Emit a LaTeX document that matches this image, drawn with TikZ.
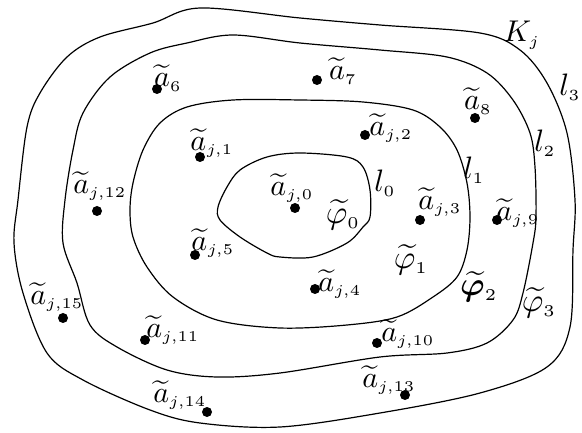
\documentclass[tikz,border=0pt]{standalone}
\usepackage{amsmath}
\usepackage{bm}
\newcommand{\tA}[1]{\widetilde{a}_{\scriptscriptstyle #1}}
\newcommand{\tPhi}[1]{\widetilde{\varphi}_{\scriptscriptstyle #1}}
\begin{document}
\begin{tikzpicture}[x=1pt,y=-1pt,
  curve/.style={line width=1.2pt, black},
  dot/.style={circle, fill=black, inner sep=0pt, minimum size=10pt},
  lab/.style={inner sep=0pt, scale=3.0},
  phl/.style={inner sep=0pt, scale=3.3},
  lbl/.style={inner sep=0pt, scale=3.1}]
\useasboundingbox (0,0) rectangle (582,433);
% outer curve K_j / l_3
\draw[curve] plot[smooth cycle, tension=0.55] coordinates {
 (153,23) (200,8) (300,18) (380,25) (480,33) (520,50) (547,83) (567,133)
 (575,200) (573,250) (570,327) (547,367) (480,393) (380,413) (280,427)
 (200,423) (150,410) (83,380) (47,353) (23,293) (14,243) (18,200) (27,127)
 (40,93) (67,57) (100,37)};
% l_2
\draw[curve] plot[smooth cycle, tension=0.55] coordinates {
 (300,43) (380,50) (447,57) (487,73) (513,100) (530,133) (535,167) (536,217)
 (533,243) (523,293) (513,320) (487,343) (447,353) (380,357) (280,373)
 (217,377) (167,370) (117,347) (90,325) (77,283) (63,243) (65,200) (73,150)
 (83,113) (110,77) (150,53) (187,43) (233,35)};
% l_1
\draw[curve] plot[smooth cycle, tension=0.55] coordinates {
 (300,100) (363,102) (413,110) (440,127) (457,150) (467,183) (470,217)
 (467,250) (457,277) (433,297) (397,317) (347,325) (280,328) (217,320)
 (173,297) (147,267) (133,237) (130,210) (133,183) (143,150) (160,123)
 (187,107) (233,100)};
% l_0
\draw[curve] plot[smooth cycle, tension=0.55] coordinates {
 (300,153) (347,157) (363,167) (370,190) (370,217) (363,227) (347,243)
 (313,257) (280,257) (267,253) (240,237) (220,220) (218,207) (227,187)
 (240,170) (267,157)};
% dots
\node[dot] (a6)  at (157,89)  {};
\node[dot] (a7)  at (317,80)  {};
\node[dot] (a8)  at (475,118) {};
\node[dot] (a1)  at (200,157) {};
\node[dot] (a2)  at (365,135) {};
\node[dot] (a12) at (97,211)  {};
\node[dot] (a0)  at (295,208) {};
\node[dot] (a3)  at (420,220) {};
\node[dot] (a9)  at (497,220) {};
\node[dot] (a5)  at (195,255) {};
\node[dot] (a4)  at (315,289) {};
\node[dot] (a15) at (63,318)  {};
\node[dot] (a11) at (145,340) {};
\node[dot] (a10) at (377,343) {};
\node[dot] (a13) at (405,395) {};
\node[dot] (a14) at (207,412) {};
% labels of points
\node[lab] at (168,78)  {$\tA{6}$};
\node[lab] at (343,71)  {$\tA{7}$};
\node[lab] at (478,101) {$\tA{8}$};
\node[lab] at (212,143) {$\tA{j,1}$};
\node[lab] at (391,128) {$\tA{j,2}$};
\node[lab] at (100,186) {$\tA{j,12}$};
\node[lab] at (292,188) {$\tA{j,0}$};
\node[lab] at (440,202) {$\tA{j,3}$};
\node[lab] at (518,213) {$\tA{j,9}$};
\node[lab] at (213,243) {$\tA{j,5}$};
\node[lab] at (340,284) {$\tA{j,4}$};
\node[lab] at (57,297)  {$\tA{j,15}$};
\node[lab] at (173,330) {$\tA{j,11}$};
\node[lab] at (408,334) {$\tA{j,10}$};
\node[lab] at (389,380) {$\tA{j,13}$};
\node[lab] at (180,395) {$\tA{j,14}$};
% region and curve labels
\node[phl] at (343,215) {$\tPhi{0}$};
\node[phl] at (411,260) {$\tPhi{1}$};
\node[phl] at (479,287) {$\widetilde{\bm{\varphi}}_{\scriptscriptstyle 2}$};
\node[phl] at (539,303) {$\tPhi{3}$};
\node[lbl] at (385,183) {$l_{\scriptscriptstyle 0}$};
\node[lbl] at (474,170) {$l_{\scriptscriptstyle 1}$};
\node[lbl] at (545,143) {$l_{\scriptscriptstyle 2}$};
\node[lbl] at (570,87)  {$l_{\scriptscriptstyle 3}$};
\node[lab] at (522,35)  {$K_{\scriptscriptstyle j}$};
\end{tikzpicture}
\end{document}
